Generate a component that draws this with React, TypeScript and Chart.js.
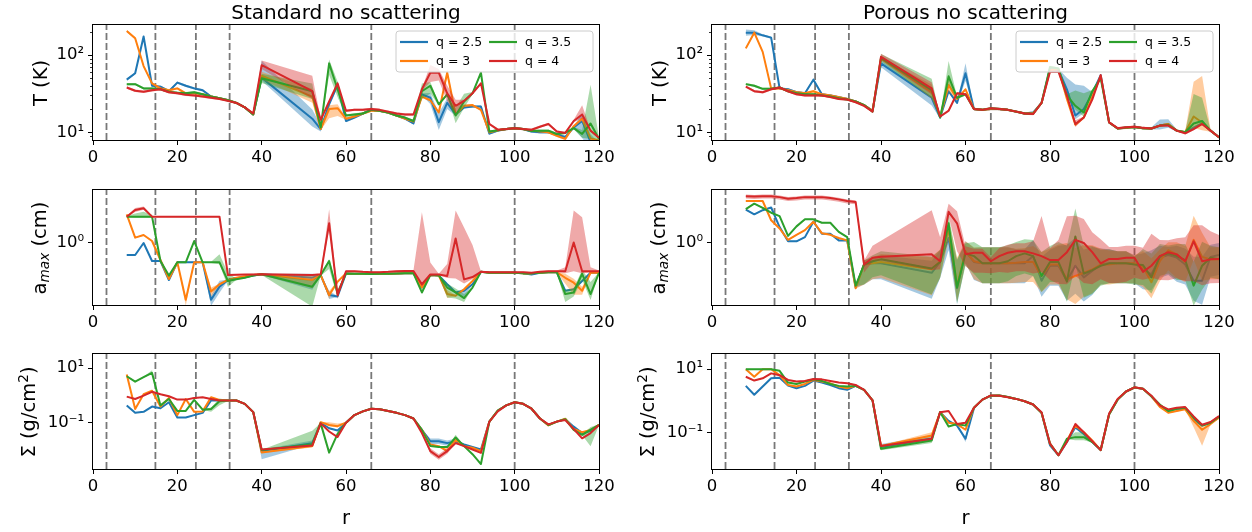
import React, { useEffect, useRef } from "react";
import { Chart, registerables } from "chart.js";

Chart.register(...registerables);

const FONT = "'DejaVu Sans', sans-serif";

// radius grid (r)
const R = [8, 10, 12, 14, 16, 18, 20, 22, 24, 26, 28, 30, 32, 34, 36, 38, 40,
  52, 54, 56, 58, 60, 62, 64, 66, 68, 70, 72, 74, 76, 78, 80, 82, 84, 86, 88, 90, 92, 94, 96, 98, 100, 102, 104, 106, 108, 110, 112, 114, 116, 118, 120];

const SERIES_LABELS = ["q = 2.5", "q = 3", "q = 3.5", "q = 4"];
const COLORS = ["#1f77b4", "#ff7f0e", "#2ca02c", "#d62728"];
const FILLS = ["rgba(31,119,180,0.4)", "rgba(255,127,14,0.4)", "rgba(44,160,44,0.4)", "rgba(214,39,40,0.4)"];
const VLINES = [3.2, 14.8, 24.4, 32.4, 66, 100];
const X_TICKS = [0, 20, 40, 60, 80, 100, 120];
const T_MAJOR = [10, 100];
const T_MINOR = [9, 20, 30, 40, 50, 60, 70, 80, 90, 200];
const AMAX_MAJOR = [1];
const SIGMA_MAJOR = [0.1, 10];
const TICK_TEXT: Record<string, string> = { "0.1": "10\u207B\u00B9", "1": "10\u2070", "10": "10\u00B9", "100": "10\u00B2" };
const BASE_BAND = 0.015;

// ---- Standard, T (K)
const T_STD_25 = [48, 58, 174, 40, 39, 34, 44, 40, 37, 35, 29, 27.5, 26, 24, 21, 17, 51,
  15, 11, 23, 41, 14, 15.5, 17.5, 19.5, 19, 18, 16.5, 15, 13, 31, 28, 13.5, 24, 17, 21, 21.5, 21.5, 9.6, 10.5, 11, 11.3, 11, 10.2, 10, 10, 9.3, 8.7, 11.5, 14, 7.5, 7];
const T_STD_3 = [205, 165, 72, 43, 37, 35, 37, 32, 32, 31, 29, 27.5, 26, 24, 21, 17, 54,
  29, 11, 20, 20.5, 15, 16, 17.5, 19, 19, 18, 16.5, 15, 13.8, 29, 26, 18, 59, 17, 22, 22.5, 19.5, 10, 10.6, 11, 11.3, 11, 10.5, 10.3, 10, 9, 8.2, 12, 15, 8.3, 7.8];
const T_STD_35 = [42, 42, 37, 37, 36, 33.5, 32.6, 32, 33, 31, 29, 27.5, 26, 24, 21, 17, 50,
  34, 11.5, 78, 36, 16.5, 17, 17.5, 19.5, 19, 18, 16.5, 15.5, 14, 34, 40, 23, 31, 16.5, 25, 32, 59, 10.2, 10.6, 11, 11.3, 11, 10.4, 10.5, 10.5, 9.5, 9.8, 11.3, 9.5, 13, 8.2];
const T_STD_4 = [38, 34.5, 33.5, 35, 36, 33, 32, 30.5, 30, 29, 28, 27, 25.5, 24, 21, 17.5, 74,
  34, 14.5, 25, 43, 19, 19.5, 19.5, 20, 19.5, 18.5, 17.5, 17, 17, 36, 59, 59, 32, 22, 25.5, 32, 43, 12.8, 10.8, 11, 11.3, 11, 10.8, 11.8, 12.8, 10.2, 9.8, 14, 17, 10.5, 8.5];

// ---- Porous, T (K)
const T_POR_25 = [195, 195, 180, 168, 37, 36, 33, 32, 48, 31, 30, 28.5, 27, 25, 22.5, 19, 78,
  28, 15.5, 34, 24, 58, 20, 19.5, 20, 20, 19.5, 18.5, 17.5, 18, 24, 67, 64, 36, 16.5, 20, 32, 55, 13.4, 11.2, 11.4, 11.7, 11.3, 11.2, 12.2, 12.8, 10.5, 10, 11.5, 13, 10.5, 8.6];
const T_POR_3 = [122, 195, 110, 37, 37, 35, 33, 32, 34, 31, 30, 28.5, 27, 25, 22.5, 19, 90,
  33, 16, 41, 27, 36, 20, 19.5, 20, 20, 19.5, 18.5, 17.5, 17.5, 24, 64, 66, 27, 12.5, 15.5, 29, 53, 13.4, 11.2, 11.4, 11.7, 11.3, 11.2, 12.2, 12.8, 10.5, 10, 16, 13.4, 10.5, 8.6];
const T_POR_35 = [42, 40, 36.5, 36.5, 38, 34, 32, 31, 31, 30, 29, 27.5, 26.5, 25, 22.5, 18.5, 92,
  35, 15.5, 53, 28, 31, 20, 19.5, 20.5, 20, 19.5, 18.5, 17.5, 17.3, 24, 70, 67, 30, 22, 18, 34, 50, 13.4, 11.2, 11.5, 11.7, 11.3, 11.2, 12.2, 12.5, 10.5, 10, 13, 14, 10.5, 8.6];
const T_POR_4 = [39, 34, 33, 36, 38, 34, 31, 30, 30, 30, 28.5, 27, 26.5, 24.5, 22, 18.5, 95,
  37, 16, 19, 32, 31, 20, 19.5, 20.5, 20, 19.5, 18.5, 17.5, 17.2, 24, 61, 61, 30, 12.8, 15.5, 26.5, 55, 13.4, 11.3, 11.6, 11.8, 11.4, 11.2, 12.2, 12.2, 10.5, 9.7, 11, 12.8, 10.5, 8.6];

// ---- Standard, a_max (cm)
const A_STD_25 = [0.5, 0.5, 1.0, 0.355, 0.355, 0.119, 0.329, 0.329, 0.329, 0.329, 0.038, 0.081, 0.119, 0.131, 0.14, 0.153, 0.165,
  0.136, 0.158, 0.05, 0.046, 0.174, 0.17, 0.17, 0.168, 0.17, 0.17, 0.172, 0.175, 0.175, 0.077, 0.158, 0.155, 0.093, 0.058, 0.064, 0.093, 0.19, 0.18, 0.18, 0.18, 0.18, 0.174, 0.164, 0.18, 0.186, 0.186, 0.064, 0.07, 0.112, 0.18, 0.18];
const A_STD_3 = [5.2, 1.36, 1.58, 1.12, 0.376, 0.126, 0.329, 0.038, 0.329, 0.329, 0.061, 0.093, 0.119, 0.136, 0.148, 0.158, 0.165,
  0.119, 0.158, 0.05, 0.108, 0.174, 0.17, 0.17, 0.168, 0.17, 0.17, 0.172, 0.175, 0.175, 0.077, 0.158, 0.155, 0.053, 0.048, 0.07, 0.112, 0.19, 0.18, 0.18, 0.18, 0.18, 0.174, 0.174, 0.18, 0.186, 0.186, 0.135, 0.102, 0.064, 0.18, 0.18];
const A_STD_35 = [4.55, 4.55, 4.55, 4.55, 0.355, 0.153, 0.329, 0.329, 1.12, 0.329, 0.329, 0.329, 0.112, 0.124, 0.136, 0.153, 0.165,
  0.081, 0.158, 0.355, 0.055, 0.174, 0.17, 0.17, 0.168, 0.17, 0.17, 0.172, 0.175, 0.175, 0.058, 0.158, 0.155, 0.077, 0.058, 0.042, 0.077, 0.19, 0.18, 0.18, 0.18, 0.18, 0.174, 0.174, 0.18, 0.186, 0.186, 0.053, 0.058, 0.17, 0.053, 0.18];
const A_STD_4 = [4.55, 6.7, 7.4, 4.55, 4.55, 4.55, 4.55, 4.55, 4.55, 4.55, 4.55, 4.55, 0.158, 0.16, 0.162, 0.164, 0.165,
  0.158, 0.165, 3.1, 0.05, 0.197, 0.197, 0.19, 0.186, 0.186, 0.19, 0.197, 0.2, 0.2, 0.093, 0.164, 0.164, 0.149, 1.3, 0.123, 0.141, 0.19, 0.186, 0.186, 0.186, 0.186, 0.186, 0.18, 0.19, 0.197, 0.197, 0.197, 1.03, 0.197, 0.197, 0.197];

// ---- Porous, a_max (cm)
const A_POR_25 = [6.8, 5.2, 6.6, 7.7, 2.5, 1.1, 1.1, 1.4, 3.4, 1.7, 1.7, 1.16, 1.16, 0.078, 0.29, 0.31, 0.31,
  0.18, 0.335, 1.33, 0.074, 0.62, 0.335, 0.31, 0.31, 0.31, 0.31, 0.31, 0.31, 0.47, 0.114, 0.27, 0.27, 0.114, 0.27, 0.138, 0.2, 0.29, 0.31, 0.31, 0.31, 0.31, 0.22, 0.165, 0.43, 0.5, 0.43, 0.29, 0.114, 0.114, 0.45, 0.5];
const A_POR_3 = [11.2, 11.2, 11.2, 3.7, 2.3, 1.2, 1.6, 2.1, 3.4, 1.76, 1.6, 1.33, 1.16, 0.074, 0.29, 0.31, 0.335,
  0.22, 0.35, 2.3, 0.086, 0.62, 0.35, 0.31, 0.31, 0.31, 0.31, 0.32, 0.335, 0.335, 0.15, 0.29, 0.29, 0.125, 0.15, 0.18, 0.22, 0.29, 0.29, 0.31, 0.31, 0.31, 0.25, 0.104, 0.35, 0.66, 0.52, 0.335, 1.2, 0.45, 0.39, 0.39];
const A_POR_35 = [7, 9.6, 7.5, 5.7, 4.7, 1.5, 2.6, 3.9, 3.9, 3.2, 3.2, 1.9, 1.4, 0.086, 0.29, 0.35, 0.39,
  0.23, 0.335, 3.1, 0.078, 0.55, 0.47, 0.31, 0.31, 0.31, 0.35, 0.47, 0.55, 0.47, 0.15, 0.335, 0.335, 0.108, 1.46, 0.17, 0.21, 0.27, 0.31, 0.31, 0.31, 0.29, 0.28, 0.138, 0.47, 0.55, 0.47, 0.375, 0.086, 0.27, 0.43, 0.39];
const A_POR_4 = [14.8, 14.5, 14.8, 14.8, 14, 12.8, 13.3, 14, 14, 14, 13.3, 12.3, 11.2, 10.6, 0.29, 0.43, 0.45,
  0.52, 0.35, 6, 3.1, 0.52, 0.57, 0.57, 0.35, 0.47, 0.57, 0.62, 0.62, 0.55, 0.47, 0.375, 0.375, 0.59, 1.2, 1.0, 0.59, 0.31, 0.4, 0.4, 0.43, 0.43, 0.19, 0.27, 0.47, 0.59, 0.52, 0.35, 1.1, 0.35, 0.39, 0.4];

// ---- Standard, Sigma (g/cm^2)
const S_STD_25 = [0.43, 0.23, 0.25, 0.39, 0.34, 0.56, 0.155, 0.155, 0.19, 0.23, 0.65, 0.65, 0.65, 0.65, 0.49, 0.245, 0.0093,
  0.018, 0.1, 0.063, 0.052, 0.1, 0.19, 0.26, 0.325, 0.31, 0.27, 0.23, 0.19, 0.143, 0.055, 0.021, 0.021, 0.018, 0.021, 0.016, 0.0129, 0.0105, 0.11, 0.28, 0.43, 0.56, 0.49, 0.325, 0.143, 0.083, 0.11, 0.135, 0.072, 0.042, 0.05, 0.083];
const S_STD_3 = [5.8, 0.32, 1.1, 1.47, 0.39, 0.8, 0.19, 0.74, 0.25, 0.26, 0.85, 0.68, 0.65, 0.65, 0.49, 0.245, 0.0081,
  0.014, 0.105, 0.083, 0.075, 0.1, 0.19, 0.26, 0.325, 0.31, 0.27, 0.23, 0.19, 0.143, 0.055, 0.016, 0.014, 0.0092, 0.024, 0.014, 0.0122, 0.0092, 0.11, 0.28, 0.43, 0.56, 0.49, 0.325, 0.143, 0.08, 0.11, 0.14, 0.059, 0.045, 0.055, 0.083];
const S_STD_35 = [5.0, 3.16, 4.6, 6.6, 0.43, 0.74, 0.27, 0.27, 0.68, 0.3, 0.32, 0.61, 0.65, 0.65, 0.49, 0.245, 0.01,
  0.016, 0.095, 0.0081, 0.039, 0.1, 0.19, 0.26, 0.325, 0.31, 0.27, 0.23, 0.19, 0.143, 0.055, 0.014, 0.0129, 0.0129, 0.029, 0.014, 0.0071, 0.0031, 0.11, 0.28, 0.43, 0.56, 0.49, 0.325, 0.143, 0.083, 0.11, 0.135, 0.055, 0.036, 0.055, 0.083];
const S_STD_4 = [0.9, 0.74, 0.98, 1.35, 1.1, 0.93, 0.7, 0.7, 0.8, 0.85, 0.74, 0.65, 0.65, 0.65, 0.49, 0.245, 0.0105,
  0.0146, 0.095, 0.048, 0.03, 0.1, 0.19, 0.26, 0.325, 0.31, 0.27, 0.23, 0.19, 0.143, 0.042, 0.0092, 0.0056, 0.0092, 0.018, 0.014, 0.0105, 0.0079, 0.11, 0.26, 0.43, 0.56, 0.49, 0.325, 0.143, 0.087, 0.11, 0.125, 0.059, 0.027, 0.042, 0.083];

// ---- Porous, Sigma (g/cm^2)
const S_POR_25 = [3.0, 1.58, 2.86, 5.2, 5.4, 3.07, 2.54, 3.0, 4.4, 3.8, 3.2, 2.54, 2.26, 3.0, 2.26, 1.06, 0.036,
  0.066, 0.45, 0.24, 0.17, 0.066, 0.6, 1.11, 1.48, 1.5, 1.34, 1.17, 0.99, 0.78, 0.43, 0.041, 0.02, 0.052, 0.15, 0.093, 0.052, 0.029, 0.385, 1.11, 2.0, 2.67, 2.43, 1.41, 0.69, 0.49, 0.57, 0.57, 0.27, 0.17, 0.21, 0.305];
const S_POR_3 = [10, 5.8, 10, 10, 6.5, 3.2, 2.86, 3.45, 4.6, 4.1, 3.6, 2.86, 2.54, 3.0, 2.26, 1.06, 0.039,
  0.083, 0.45, 0.21, 0.19, 0.126, 0.62, 1.11, 1.48, 1.5, 1.34, 1.17, 0.99, 0.78, 0.43, 0.046, 0.02, 0.058, 0.17, 0.105, 0.058, 0.029, 0.385, 1.11, 2.0, 2.67, 2.43, 1.41, 0.66, 0.43, 0.49, 0.55, 0.24, 0.126, 0.19, 0.305];
const S_POR_35 = [10, 10, 10, 10, 8.9, 3.8, 3.45, 4.1, 4.8, 4.3, 3.45, 3.0, 2.86, 3.0, 2.26, 1.06, 0.032,
  0.058, 0.45, 0.16, 0.19, 0.17, 0.62, 1.11, 1.48, 1.5, 1.34, 1.17, 0.99, 0.78, 0.43, 0.046, 0.02, 0.066, 0.074, 0.074, 0.052, 0.029, 0.385, 1.11, 2.0, 2.67, 2.43, 1.41, 0.78, 0.49, 0.57, 0.62, 0.305, 0.17, 0.21, 0.33];
const S_POR_4 = [5.8, 4.4, 5.2, 7.4, 6.5, 4.6, 4.1, 4.3, 4.9, 4.8, 4.3, 3.8, 3.6, 3.2, 2.26, 1.06, 0.039,
  0.066, 0.45, 0.49, 0.19, 0.21, 0.62, 1.11, 1.51, 1.48, 1.31, 1.17, 0.99, 0.78, 0.45, 0.046, 0.02, 0.052, 0.19, 0.105, 0.055, 0.029, 0.41, 1.17, 2.0, 2.7, 2.43, 1.48, 0.73, 0.55, 0.62, 0.65, 0.33, 0.18, 0.22, 0.34];

// ---- uncertainty bands: [r, dex below, dex above]
type Band = [number, number, number][];
const TB_STD_25: Band = [[40, 0.04, 0.22], [52, 0.1, 0.12], [54, 0.03, 0.05], [58, 0.03, 0.05], [80, 0.08, 0.06], [82, 0.1, 0.12], [84, 0.08, 0.06], [116, 0.22, 0.1], [118, 0.1, 0.1]];
const TB_STD_3: Band = [[40, 0.05, 0.05], [52, 0.08, 0.1], [56, 0.12, 0.05], [58, 0.1, 0.05], [84, 0.05, 0.05]];
const TB_STD_35: Band = [[40, 0.06, 0.06], [52, 0.1, 0.1], [56, 0.15, 0.05], [58, 0.1, 0.1], [78, 0.1, 0.1], [80, 0.1, 0.05], [86, 0.1, 0.1], [88, 0.08, 0.1], [116, 0.05, 0.05], [118, 0.2, 0.5]];
const TB_STD_4: Band = [[40, 0.05, 0.06], [52, 0.1, 0.2], [80, 0.12, 0.1], [82, 0.1, 0.05], [84, 0.1, 0.1], [86, 0.1, 0.08], [116, 0.05, 0.12]];

const TB_POR_25: Band = [[8, 0.04, 0.04], [10, 0.03, 0.03], [40, 0.05, 0.05], [52, 0.1, 0.1], [60, 0.1, 0.13], [84, 0.05, 0.15], [86, 0.05, 0.4], [88, 0.05, 0.3], [106, 0.05, 0.08], [108, 0.05, 0.06]];
const TB_POR_3: Band = [[52, 0.08, 0.1], [56, 0.08, 0.08], [114, 0.15, 0.45], [116, 0.1, 0.6]];
const TB_POR_35: Band = [[40, 0.05, 0.05], [52, 0.1, 0.15], [56, 0.1, 0.2], [86, 0.05, 0.2], [88, 0.05, 0.25], [114, 0.05, 0.38], [116, 0.05, 0.3]];
const TB_POR_4: Band = [[40, 0.04, 0.04], [52, 0.08, 0.08], [86, 0.04, 0.05]];

const AB_STD_25: Band = [[28, 0.15, 0.1], [30, 0.15, 0.15], [52, 0.3, 0.1], [56, 0.1, 0.1], [88, 0.15, 0.05]];
const AB_STD_3: Band = [[22, 0.15, 0.05], [28, 0.12, 0.1], [52, 0.2, 0.1], [56, 0.1, 0.1], [84, 0.1, 0.1], [112, 0.15, 0.1], [114, 0.3, 0.1], [116, 0.1, 0.1]];
const AB_STD_35: Band = [[10, 0.03, 0.08], [12, 0.03, 0.12], [14, 0.03, 0.05], [30, 0.05, 0.2], [32, 0.15, 0.2], [52, 0.5, 0.15], [56, 0.2, 0.05], [58, 0.1, 0.1], [84, 0.25, 0.1], [86, 0.15, 0.1], [88, 0.1, 0.1], [112, 0.2, 0.1], [114, 0.1, 0.1], [116, 0.15, 0.1], [118, 0.15, 0.3]];
const AB_STD_4: Band = [[10, 0.05, 0.05], [12, 0.04, 0.04], [56, 0.15, 0.35], [58, 0.1, 0.1], [78, 0.05, 1.8], [80, 0.05, 0.3], [84, 0.05, 0.3], [86, 1.0, 0.7], [88, 0.1, 1.3], [90, 0.05, 0.8], [112, 0.05, 0.1], [114, 0.72, 0.8], [116, 0.05, 1.35], [118, 0.03, 0.1]];

const AB_POR_BOG: Band = [[36, 0.5, 0.1], [38, 0.4, 0.15], [40, 0.4, 0.2], [52, 0.65, 0.3], [54, 0.4, 0.3], [56, 0.3, 0.2], [58, 0.4, 0.7], [60, 0.3, 0.25], [62, 0.45, 0.35], [64, 0.5, 0.4], [66, 0.5, 0.4], [68, 0.5, 0.4], [70, 0.5, 0.4], [72, 0.5, 0.35], [74, 0.5, 0.35], [76, 0.5, 0.4], [78, 0.4, 0.6], [80, 0.5, 0.4], [82, 0.5, 0.5], [84, 0.5, 0.9], [86, 0.7, 0.7], [88, 0.6, 0.7], [90, 0.6, 0.6], [92, 0.5, 0.4], [94, 0.5, 0.35], [96, 0.5, 0.3], [98, 0.5, 0.3], [100, 0.5, 0.2], [102, 0.5, 0.4], [104, 0.4, 0.6], [106, 0.5, 0.3], [108, 0.5, 0.2], [110, 0.6, 0.3], [112, 0.5, 0.4], [114, 0.5, 0.6], [116, 0.6, 0.6], [118, 0.5, 0.3], [120, 0.5, 0.3]];
const AB_POR_4: Band = [[8, 0.06, 0.04], [10, 0.06, 0.04], [12, 0.06, 0.04], [14, 0.06, 0.04], [16, 0.06, 0.04], [18, 0.06, 0.04], [20, 0.06, 0.04], [22, 0.06, 0.04], [24, 0.06, 0.04], [26, 0.06, 0.04], [28, 0.06, 0.04], [30, 0.06, 0.04], [32, 0.06, 0.04], [34, 0.06, 0.04], [36, 0.2, 0.1], [38, 0.1, 0.3], [40, 0.1, 0.4], [52, 0.4, 1.1], [54, 0.2, 0.6], [56, 0.1, 0.2], [58, 0.7, 0.3], [60, 0.3, 0.2], [62, 0.5, 0.1], [64, 0.5, 0.1], [66, 0.3, 0.1], [68, 0.4, 0.2], [70, 0.5, 0.2], [72, 0.5, 0.2], [74, 0.5, 0.2], [76, 0.5, 0.3], [78, 0.4, 1.0], [80, 0.5, 0.3], [82, 0.6, 0.5], [84, 0.8, 0.9], [86, 0.9, 0.6], [88, 1.0, 0.6], [90, 0.8, 0.5], [92, 0.4, 0.6], [94, 0.6, 0.3], [96, 0.6, 0.3], [98, 0.6, 0.3], [100, 0.5, 0.3], [102, 0.2, 0.6], [104, 0.3, 0.8], [106, 0.6, 0.4], [108, 0.7, 0.3], [110, 0.6, 0.4], [112, 0.5, 0.6], [114, 1.0, 0.4], [116, 0.6, 0.9], [118, 0.6, 0.7], [120, 0.6, 0.6]];

const SB_STD_25: Band = [[40, 0.3, 0.05], [52, 0.05, 0.1], [80, 0.1, 0.1], [82, 0.1, 0.1], [84, 0.1, 0.1], [86, 0.1, 0.1]];
const SB_STD_3: Band = [[52, 0.05, 0.1], [56, 0.05, 0.1], [58, 0.05, 0.1], [84, 0.05, 0.1]];
const SB_STD_35: Band = [[14, 0.03, 0.1], [28, 0.1, 0.05], [30, 0.15, 0.1], [52, 0.05, 0.5], [86, 0.05, 0.1], [118, 0.6, 0.1]];
const SB_STD_4: Band = [[80, 0.1, 0.1], [82, 0.1, 0.1], [84, 0.1, 0.1]];

const SB_POR_25: Band = [[40, 0.05, 0.1], [52, 0.05, 0.1], [60, 0.1, 0.05], [114, 0.1, 0.05]];
const SB_POR_3: Band = [[52, 0.05, 0.1], [114, 0.2, 0.05], [116, 0.5, 0.1]];
const SB_POR_35: Band = [[40, 0.05, 0.1], [52, 0.08, 0.1], [86, 0.1, 0.15], [88, 0.1, 0.15]];
const SB_POR_4: Band = [[86, 0.05, 0.05]];

type PanelCfg = {
  left: number; top: number; width: number; height: number;
  yMin: number; yMax: number; major: number[]; minor: number[];
  series: number[][]; bands: Band[]; legend: boolean;
};

const COL_L = [93, 712];
const COL_W = [506, 507];
const ROW_T = [25, 190, 354];
const ROW_H = 115;

const PANELS: PanelCfg[] = [
  { left: COL_L[0], top: ROW_T[0], width: COL_W[0], height: ROW_H, yMin: 7.94, yMax: 245, major: T_MAJOR, minor: T_MINOR,
    series: [T_STD_25, T_STD_3, T_STD_35, T_STD_4], bands: [TB_STD_25, TB_STD_3, TB_STD_35, TB_STD_4], legend: true },
  { left: COL_L[1], top: ROW_T[0], width: COL_W[1], height: ROW_H, yMin: 7.94, yMax: 245, major: T_MAJOR, minor: T_MINOR,
    series: [T_POR_25, T_POR_3, T_POR_35, T_POR_4], bands: [TB_POR_25, TB_POR_3, TB_POR_35, TB_POR_4], legend: true },
  { left: COL_L[0], top: ROW_T[1], width: COL_W[0], height: ROW_H, yMin: 0.0282, yMax: 21.1, major: AMAX_MAJOR, minor: [],
    series: [A_STD_25, A_STD_3, A_STD_35, A_STD_4], bands: [AB_STD_25, AB_STD_3, AB_STD_35, AB_STD_4], legend: false },
  { left: COL_L[1], top: ROW_T[1], width: COL_W[1], height: ROW_H, yMin: 0.0282, yMax: 21.1, major: AMAX_MAJOR, minor: [],
    series: [A_POR_25, A_POR_3, A_POR_35, A_POR_4], bands: [AB_POR_BOG, AB_POR_BOG, AB_POR_BOG, AB_POR_4], legend: false },
  { left: COL_L[0], top: ROW_T[2], width: COL_W[0], height: ROW_H, yMin: 0.00204, yMax: 32.5, major: SIGMA_MAJOR, minor: [],
    series: [S_STD_25, S_STD_3, S_STD_35, S_STD_4], bands: [SB_STD_25, SB_STD_3, SB_STD_35, SB_STD_4], legend: false },
  { left: COL_L[1], top: ROW_T[2], width: COL_W[1], height: ROW_H, yMin: 0.0074, yMax: 30, major: SIGMA_MAJOR, minor: [],
    series: [S_POR_25, S_POR_3, S_POR_35, S_POR_4], bands: [SB_POR_25, SB_POR_3, SB_POR_35, SB_POR_4], legend: false },
];

const PAD_L = 80, PAD_T = 15, PAD_R = 20, X_AXIS_H = 40;

function buildDatasets(cfg: PanelCfg) {
  const ds: any[] = [];
  for (let s = 0; s < 4; s++) {
    const vals = cfg.series[s];
    const bmap = new Map<number, [number, number, number]>();
    cfg.bands[s].forEach((b) => bmap.set(b[0], b));
    const lo = R.map((r, i) => {
      const b = bmap.get(r);
      return { x: r, y: vals[i] / Math.pow(10, b ? b[1] : BASE_BAND) };
    });
    const hi = R.map((r, i) => {
      const b = bmap.get(r);
      return { x: r, y: vals[i] * Math.pow(10, b ? b[2] : BASE_BAND) };
    });
    const line = R.map((r, i) => ({ x: r, y: vals[i] }));
    const order = (3 - s) * 2;
    ds.push({ data: lo, borderColor: "rgba(0,0,0,0)", borderWidth: 1, pointRadius: 0, fill: false, order: order + 1 });
    const loIdx = ds.length - 1;
    ds.push({ data: hi, borderColor: "rgba(0,0,0,0)", borderWidth: 1, pointRadius: 0, fill: loIdx, backgroundColor: FILLS[s], order: order + 1 });
    ds.push({ data: line, borderColor: COLORS[s], borderWidth: 2, pointRadius: 0, fill: false, order, borderJoinStyle: "round", borderCapStyle: "butt" });
  }
  return ds;
}

function decorPlugin(cfg: PanelCfg) {
  return {
    id: "decor",
    beforeDatasetsDraw(chart: any) {
      const { ctx, chartArea: a, scales } = chart;
      ctx.save();
      ctx.beginPath();
      ctx.rect(a.left, a.top, a.right - a.left, a.bottom - a.top);
      ctx.clip();
      ctx.strokeStyle = "rgba(120,120,120,1)";
      ctx.lineWidth = 1.8;
      ctx.setLineDash([7, 3]);
      for (const v of VLINES) {
        const x = scales.x.getPixelForValue(v);
        ctx.beginPath();
        ctx.moveTo(x, a.bottom);
        ctx.lineTo(x, a.top);
        ctx.stroke();
      }
      ctx.restore();
    },
    afterDatasetsDraw(chart: any) {
      const { ctx, chartArea: a, scales } = chart;
      ctx.save();
      ctx.strokeStyle = "#000";
      ctx.lineWidth = 0.8;
      for (const v of cfg.minor) {
        if (v < cfg.yMin || v > cfg.yMax) continue;
        const y = Math.round(scales.y.getPixelForValue(v)) + 0.5;
        ctx.beginPath();
        ctx.moveTo(a.left - 3, y);
        ctx.lineTo(a.left, y);
        ctx.stroke();
      }
      ctx.lineWidth = 1;
      ctx.strokeStyle = "#000";
      ctx.strokeRect(a.left - 0.5, a.top - 0.5, a.right - a.left + 1, a.bottom - a.top + 1);
      if (cfg.legend) {
        const bw = 197, bh = 41;
        const bx = a.right - 6 - bw, by = a.top + 6;
        const rr = 3;
        ctx.beginPath();
        ctx.moveTo(bx + rr, by);
        ctx.lineTo(bx + bw - rr, by);
        ctx.quadraticCurveTo(bx + bw, by, bx + bw, by + rr);
        ctx.lineTo(bx + bw, by + bh - rr);
        ctx.quadraticCurveTo(bx + bw, by + bh, bx + bw - rr, by + bh);
        ctx.lineTo(bx + rr, by + bh);
        ctx.quadraticCurveTo(bx, by + bh, bx, by + bh - rr);
        ctx.lineTo(bx, by + rr);
        ctx.quadraticCurveTo(bx, by, bx + rr, by);
        ctx.closePath();
        ctx.fillStyle = "rgba(255,255,255,0.8)";
        ctx.fill();
        ctx.strokeStyle = "#cccccc";
        ctx.lineWidth = 1;
        ctx.stroke();
        const colX = [bx + 4, bx + 93];
        const rowY = [by + 11, by + 30];
        ctx.font = `12.5px ${FONT}`;
        ctx.textBaseline = "middle";
        ctx.textAlign = "left";
        for (let s = 0; s < 4; s++) {
          const cx = colX[Math.floor(s / 2)];
          const cy = rowY[s % 2];
          ctx.strokeStyle = COLORS[s];
          ctx.lineWidth = 2.2;
          ctx.beginPath();
          ctx.moveTo(cx, cy);
          ctx.lineTo(cx + 28, cy);
          ctx.stroke();
          ctx.fillStyle = "#000";
          ctx.fillText(SERIES_LABELS[s], cx + 36, cy + 1);
        }
      }
      ctx.restore();
    },
  };
}

function Panel({ cfg }: { cfg: PanelCfg }) {
  const ref = useRef<HTMLCanvasElement | null>(null);
  const cw = cfg.width + PAD_L + PAD_R;
  const ch = cfg.height + PAD_T + X_AXIS_H;
  useEffect(() => {
    const canvas = ref.current;
    if (!canvas) return;
    const tickFont = { family: FONT, size: 16.5 };
    const chart = new Chart(canvas, {
      type: "line",
      data: { datasets: buildDatasets(cfg) },
      options: {
        animation: false,
        responsive: false,
        maintainAspectRatio: false,
        devicePixelRatio: 1,
        events: [],
        layout: { padding: { left: PAD_L - 60, top: PAD_T, right: PAD_R, bottom: 0 } },
        plugins: { legend: { display: false }, tooltip: { enabled: false }, title: { display: false }, colors: { enabled: false } },
        scales: {
          x: {
            type: "linear",
            min: 0,
            max: 120,
            afterBuildTicks: (axis: any) => { axis.ticks = X_TICKS.map((v) => ({ value: v })); },
            afterFit: (axis: any) => { axis.height = X_AXIS_H; },
            ticks: { font: tickFont, color: "#000", padding: 3, maxRotation: 0, autoSkip: false, callback: (v: any) => String(v) },
            grid: { drawOnChartArea: false, drawTicks: true, tickLength: 5, color: "#000", lineWidth: 1 },
            border: { display: false },
          },
          y: {
            type: "logarithmic",
            min: cfg.yMin,
            max: cfg.yMax,
            afterBuildTicks: (axis: any) => { axis.ticks = cfg.major.map((v) => ({ value: v })); },
            afterFit: (axis: any) => { axis.width = 60; },
            ticks: { font: tickFont, color: "#000", padding: 4, autoSkip: false, callback: (v: any) => TICK_TEXT[String(v)] ?? "" },
            grid: { drawOnChartArea: false, drawTicks: true, tickLength: 5, color: "#000", lineWidth: 1 },
            border: { display: false },
          },
        },
      } as any,
      plugins: [decorPlugin(cfg)],
    });
    return () => chart.destroy();
  }, []);
  return (
    <canvas
      ref={ref}
      width={cw}
      height={ch}
      style={{ position: "absolute", left: cfg.left - PAD_L, top: cfg.top - PAD_T, width: cw, height: ch }}
    />
  );
}

const labelStyle = (x: number, y: number, rotate: boolean, size: number): React.CSSProperties => ({
  position: "absolute",
  left: x,
  top: y,
  transform: `translate(-50%, -50%)${rotate ? " rotate(-90deg)" : ""}`,
  whiteSpace: "nowrap",
  fontFamily: FONT,
  fontSize: size,
  lineHeight: 1,
  color: "#000",
});

export default function App() {
  const rowMid = ROW_T.map((t) => t + ROW_H / 2);
  const colMid = [COL_L[0] + COL_W[0] / 2, COL_L[1] + COL_W[1] / 2];
  return (
    <div style={{ position: "absolute", left: 0, top: 0, width: 1252, height: 532, background: "#fff", overflow: "hidden" }}>
      {PANELS.map((p, i) => (
        <Panel key={i} cfg={p} />
      ))}
      <div style={labelStyle(colMid[0], 12, false, 20)}>Standard no scattering</div>
      <div style={labelStyle(colMid[1], 12, false, 20)}>Porous no scattering</div>
      {[0, 1].map((c) => (
        <React.Fragment key={c}>
          <div style={labelStyle(COL_L[c] - 52, rowMid[0], true, 19.5)}>T (K)</div>
          <div style={labelStyle(COL_L[c] - 52, rowMid[1], true, 19.5)}>
            a<sub style={{ fontSize: "70%", fontStyle: "italic", verticalAlign: "-0.25em" }}>max</sub> (cm)
          </div>
          <div style={labelStyle(COL_L[c] - 65, rowMid[2], true, 19.5)}>
            Σ (g/cm<sup style={{ fontSize: "70%", verticalAlign: "0.5em" }}>2</sup>)
          </div>
          <div style={labelStyle(colMid[c], 518, false, 19.5)}>r</div>
        </React.Fragment>
      ))}
    </div>
  );
}
